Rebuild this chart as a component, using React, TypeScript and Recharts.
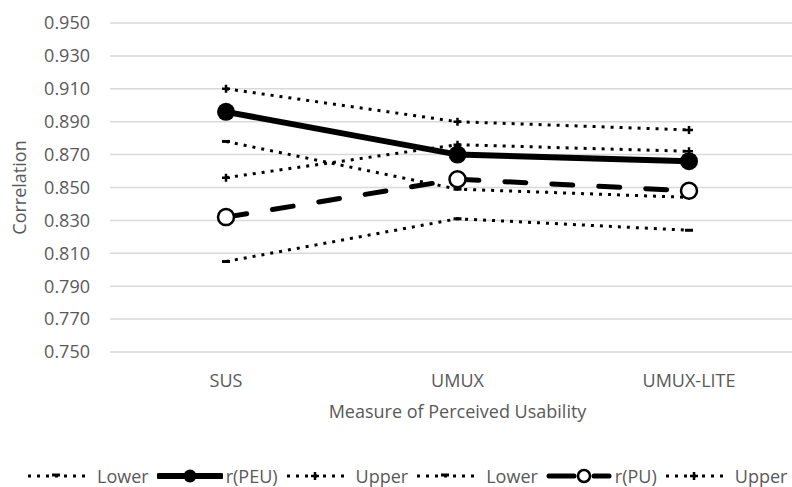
import { LineChart, Line, XAxis, YAxis, CartesianGrid } from 'recharts'

const categories = ['SUS', 'UMUX', 'UMUX-LITE']
const peuLower = [0.878, 0.849, 0.844]
const peu = [0.896, 0.87, 0.866]
const peuUpper = [0.91, 0.89, 0.885]
const puLower = [0.805, 0.831, 0.824]
const pu = [0.832, 0.855, 0.848]
const puUpper = [0.856, 0.876, 0.872]
const yTicks = [0.75, 0.77, 0.79, 0.81, 0.83, 0.85, 0.87, 0.89, 0.91, 0.93, 0.95]

const TEXT = '#595959'
const DOTTED = '3 6'

const plusDot = (p: any) => (
  <path
    key={`p${p.index}`}
    d={`M${p.cx - 4},${p.cy}H${p.cx + 4}M${p.cx},${p.cy - 4}V${p.cy + 4}`}
    stroke="#000"
    strokeWidth={2.5}
    fill="none"
  />
)

const minusDot = (p: any) => (
  <path key={`m${p.index}`} d={`M${p.cx - 4},${p.cy}H${p.cx + 4}`} stroke="#000" strokeWidth={3} fill="none" />
)

const filledDot = (p: any) => <circle key={`f${p.index}`} cx={p.cx} cy={p.cy} r={9} fill="#000" />

const openDot = (p: any) => (
  <circle key={`o${p.index}`} cx={p.cx} cy={p.cy} r={8} fill="#fff" stroke="#000" strokeWidth={2.5} />
)

const legendItems = [
  { label: 'Lower', kind: 'dotted', marker: 'minus' },
  { label: 'r(PEU)', kind: 'solid', marker: 'filled' },
  { label: 'Upper', kind: 'dotted', marker: 'plus' },
  { label: 'Lower', kind: 'dotted', marker: 'minus' },
  { label: 'r(PU)', kind: 'dashed', marker: 'open' },
  { label: 'Upper', kind: 'dotted', marker: 'plus' },
]

function LegendIcon({ kind, marker }: { kind: string; marker: string }) {
  const w = kind === 'dotted' ? 58 : 66
  const m = w / 2
  const y = 12
  return (
    <svg width={w} height={24} style={{ display: 'block' }}>
      {kind === 'dotted' && <line x1={1} y1={y} x2={w} y2={y} stroke="#000" strokeWidth={3} strokeDasharray={DOTTED} />}
      {kind === 'solid' && <line x1={2} y1={y} x2={w - 2} y2={y} stroke="#000" strokeWidth={6} strokeLinecap="round" />}
      {kind === 'dashed' && (
        <>
          <line x1={3} y1={y} x2={28} y2={y} stroke="#000" strokeWidth={5} strokeLinecap="round" />
          <line x1={48} y1={y} x2={w - 3} y2={y} stroke="#000" strokeWidth={5} strokeLinecap="round" />
        </>
      )}
      {marker === 'plus' && (
        <path d={`M${m - 4},${y}H${m + 4}M${m},${y - 4}V${y + 4}`} stroke="#000" strokeWidth={2.5} />
      )}
      {marker === 'minus' && <path d={`M${m - 4},${y - 1}H${m + 4}`} stroke="#000" strokeWidth={3} />}
      {marker === 'filled' && <circle cx={m} cy={y} r={6.5} fill="#000" />}
      {marker === 'open' && <circle cx={38} cy={y} r={6} fill="#fff" stroke="#000" strokeWidth={2.5} />}
    </svg>
  )
}

export default function App() {
  const data = categories.map((name, i) => ({
    name,
    peuLower: peuLower[i],
    peu: peu[i],
    peuUpper: peuUpper[i],
    puLower: puLower[i],
    pu: pu[i],
    puUpper: puUpper[i],
  }))

  return (
    <div
      style={{
        position: 'absolute',
        left: 0,
        top: 0,
        width: 792,
        height: 487,
        overflow: 'hidden',
        background: '#fff',
        fontFamily: '"Open Sans", sans-serif',
      }}
    >
      <LineChart width={820} height={487} data={data} margin={{ top: 23, right: 15, left: 0, bottom: 65 }}>
        <CartesianGrid vertical={false} stroke="#d9d9d9" strokeWidth={1.5} />
        <XAxis
          dataKey="name"
          axisLine={false}
          tickLine={false}
          height={70}
          tickMargin={16}
          padding={{ left: 116, right: 116 }}
          tick={{ fill: TEXT, fontSize: 18 }}
          label={{ value: 'Measure of Perceived Usability', position: 'insideBottom', offset: 4, fill: TEXT, fontSize: 18 }}
        />
        <YAxis
          domain={[0.75, 0.95]}
          ticks={yTicks}
          tickFormatter={(v: number) => v.toFixed(3)}
          axisLine={false}
          tickLine={false}
          width={110}
          tickMargin={14}
          tick={{ fill: TEXT, fontSize: 18 }}
          label={{
            value: 'Correlation',
            angle: -90,
            position: 'insideLeft',
            offset: 20,
            fill: TEXT,
            fontSize: 18,
            style: { textAnchor: 'middle' },
          }}
        />
        {/* confidence bounds first, so the main series sit on top */}
        <Line dataKey="peuLower" stroke="#000" strokeWidth={3} strokeDasharray={DOTTED} dot={minusDot} isAnimationActive={false} />
        <Line dataKey="peuUpper" stroke="#000" strokeWidth={3} strokeDasharray={DOTTED} dot={plusDot} isAnimationActive={false} />
        <Line dataKey="puLower" stroke="#000" strokeWidth={3} strokeDasharray={DOTTED} dot={minusDot} isAnimationActive={false} />
        <Line dataKey="puUpper" stroke="#000" strokeWidth={3} strokeDasharray={DOTTED} dot={plusDot} isAnimationActive={false} />
        <Line
          dataKey="pu"
          stroke="#000"
          strokeWidth={5}
          strokeDasharray="21 26"
          strokeLinecap="round"
          dot={openDot}
          isAnimationActive={false}
        />
        <Line dataKey="peu" stroke="#000" strokeWidth={6} strokeLinecap="round" dot={filledDot} isAnimationActive={false} />
      </LineChart>

      <div
        style={{
          position: 'absolute',
          top: 464,
          left: 27,
          display: 'flex',
          alignItems: 'center',
          fontSize: 18,
          color: TEXT,
          whiteSpace: 'nowrap',
        }}
      >
        {legendItems.map((it, i) => (
          <div key={i} style={{ display: 'flex', alignItems: 'center', marginRight: 8 }}>
            <LegendIcon kind={it.kind} marker={it.marker} />
            <span style={{ marginLeft: it.kind === 'dotted' ? 12 : 3 }}>{it.label}</span>
          </div>
        ))}
      </div>
    </div>
  )
}
